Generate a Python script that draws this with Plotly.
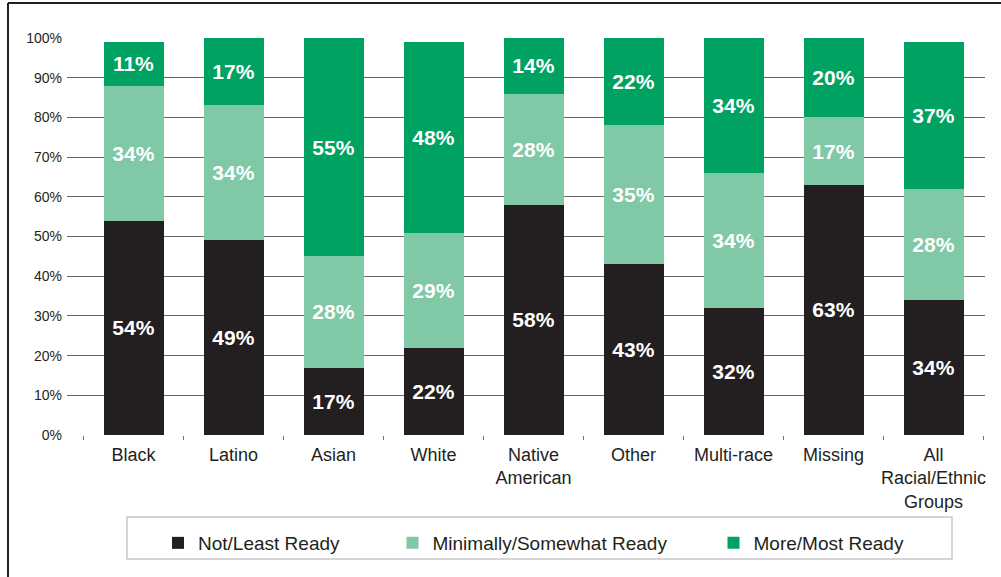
import plotly.graph_objects as go

# Readiness shares (%) by racial/ethnic group
groups = ["Black", "Latino", "Asian", "White", "Native<br>American", "Other",
          "Multi-race", "Missing", "All<br>Racial/Ethnic<br>Groups"]
not_least = [54, 49, 17, 22, 58, 43, 32, 63, 34]
min_somewhat = [34, 34, 28, 29, 28, 35, 34, 17, 28]
more_most = [11, 17, 55, 48, 14, 22, 34, 20, 37]

y_ticks = list(range(0, 101, 10))
y_tick_text = [f"{v}%" for v in y_ticks]

series = [
    ("Not/Least Ready", not_least, "#231F20", "legend"),
    ("Minimally/Somewhat Ready", min_somewhat, "#80C8A6", "legend2"),
    ("More/Most Ready", more_most, "#00A262", "legend3"),
]

W, H = 1001, 577
M_L, M_R, M_T, M_B = 67, 16, 38, 142
PW, PH = W - M_L - M_R, H - M_T - M_B
FONT = "Liberation Sans, Arial, sans-serif"
INK = "#231F20"


def px_x(p):
    return (p - M_L) / PW


def px_y(p):
    return (H - M_B - p) / PH


fig = go.Figure()
for name, vals, color, leg in series:
    fig.add_trace(go.Bar(
        x=groups, y=vals, name=name, legend=leg,
        marker=dict(color=color, line=dict(width=0)),
        text=[f"{v}%" for v in vals], texttemplate="%{text}",
        textposition="inside", insidetextanchor="middle", textangle=0,
        textfont=dict(family=FONT, size=21, color="white", weight="bold"),
        hoverinfo="skip",
    ))

legend_common = dict(
    orientation="h", yanchor="middle", xanchor="left",
    y=px_y(543), bgcolor="rgba(0,0,0,0)", borderwidth=0,
    font=dict(family=FONT, size=19, color=INK),
)

fig.update_layout(
    template="none",
    width=W, height=H,
    margin=dict(l=M_L, r=M_R, t=M_T, b=M_B, pad=0, autoexpand=False),
    barmode="stack", bargap=0.4,
    plot_bgcolor="white", paper_bgcolor="white",
    font=dict(family=FONT, color=INK),
    showlegend=True,
    legend=dict(x=px_x(158), **legend_common),
    legend2=dict(x=px_x(392.5), **legend_common),
    legend3=dict(x=px_x(713.5), **legend_common),
    xaxis=dict(
        range=[-0.665, 8.515], tickson="boundaries", ticks="outside",
        ticklen=4, tickwidth=1, tickcolor="#777777", showgrid=False,
        showline=False, zeroline=False, tickangle=0, automargin=False,
        ticklabelstandoff=7,
        tickfont=dict(family=FONT, size=18, color=INK),
    ),
    yaxis=dict(
        range=[0, 100], tickvals=y_ticks, ticktext=y_tick_text,
        showgrid=True, gridcolor="#666666", gridwidth=1, zeroline=False,
        showline=False, ticks="", ticklabelstandoff=4, automargin=False,
        tickfont=dict(family=FONT, size=14, color=INK),
    ),
    shapes=[
        # outer frame (top and left edges)
        dict(type="line", xref="paper", yref="paper",
             x0=px_x(8), x1=px_x(1001), y0=px_y(3), y1=px_y(3),
             line=dict(color=INK, width=2)),
        dict(type="line", xref="paper", yref="paper",
             x0=px_x(8), x1=px_x(8), y0=px_y(3), y1=px_y(577),
             line=dict(color=INK, width=2)),
        # legend box
        dict(type="rect", xref="paper", yref="paper",
             x0=px_x(127), x1=px_x(952), y0=px_y(517), y1=px_y(559),
             line=dict(color="#c8c8cc", width=1.5), fillcolor="rgba(0,0,0,0)"),
    ],
)

fig.write_html("out.html")
